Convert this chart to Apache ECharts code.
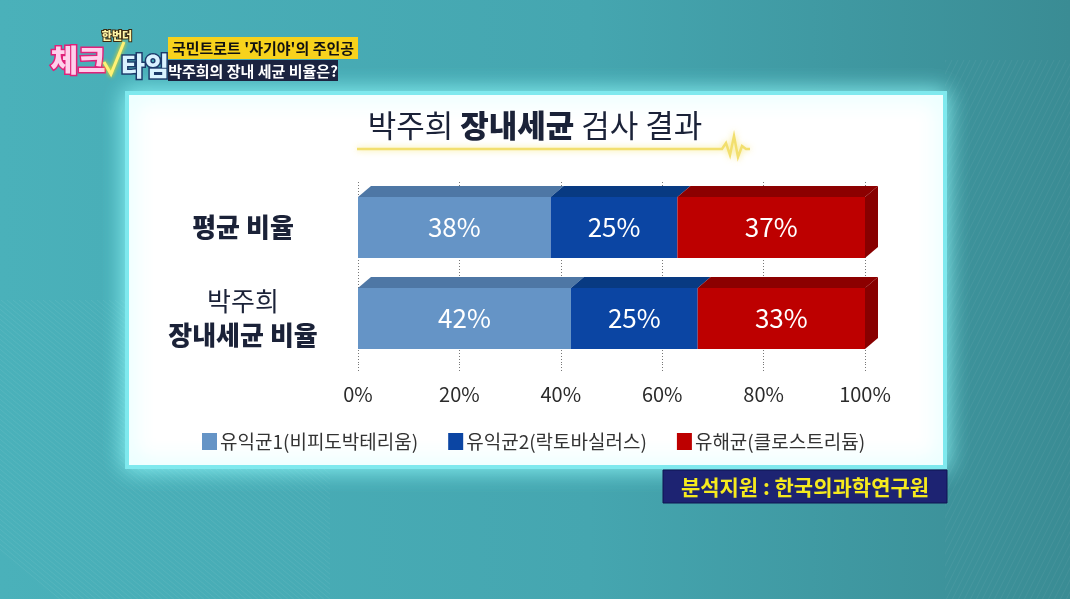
<!DOCTYPE html>
<html>
<head>
<meta charset="utf-8">
<style>
  html, body { margin: 0; padding: 0; width: 1070px; height: 599px; overflow: hidden; background: #44a7b1; }
  #chart { width: 1070px; height: 599px; }
</style>
<script src="https://cdn.jsdelivr.net/npm/echarts@6/dist/echarts.min.js"></script>
</head>
<body>
<div id="chart"></div>
<script>
// Gut-flora test result: share of each bacterial group
const categories = ['평균 비율', '박주희\n장내세균 비율'];
const groupNames = ['유익균1(비피도박테리움)', '유익균2(락토바실러스)', '유해균(클로스트리듐)'];
const beneficial1 = [38, 42];
const beneficial2 = [25, 25];
const harmful = [37, 33];
const xTicks = [0, 20, 40, 60, 80, 100];

const titleParts = ['박주희 ', '장내세균', ' 검사 결과'];
const captionTop = "국민트로트 '자기야'의 주인공";
const captionBottom = '박주희의 장내 세균 비율은?';
const sourceText = '분석지원 : 한국의과학연구원';

const FONT = '"Noto Sans CJK KR", "Noto Sans", sans-serif';

// colour sets per group: front face, top face, side face
const palette = [
  { front: '#6594c6', top: '#4e77a5', side: '#44699a' },
  { front: '#0b45a3', top: '#083a82', side: '#06306e' },
  { front: '#bd0000', top: '#8c0000', side: '#880000' }
];

const groups = [beneficial1, beneficial2, harmful];

// stacked [start, end, categoryIndex] triplets for each group
function stackedData(gi) {
  return categories.map((c, ci) => {
    let start = 0;
    for (let k = 0; k < gi; k++) start += groups[k][ci];
    return [start, start + groups[gi][ci], ci];
  });
}

function makeRender(gi) {
  const col = palette[gi];
  const isLast = gi === groups.length - 1;
  return function (params, api) {
    const start = api.value(0), end = api.value(1), cat = api.value(2);
    const p0 = api.coord([start, cat]);
    const p1 = api.coord([end, cat]);
    const h = api.size([0, 1])[1] * 0.67;
    const x0 = p0[0], x1 = p1[0], yc = p0[1];
    const top = yc - h / 2, bot = yc + h / 2;
    const dx = 13, dy = 11;
    const children = [
      { type: 'polygon', shape: { points: [[x0, top], [x0 + dx, top - dy], [x1 + dx, top - dy], [x1, top]] },
        style: { fill: col.top } },
      { type: 'rect', shape: { x: x0, y: top, width: x1 - x0, height: h }, style: { fill: col.front } },
      { type: 'text', x: (x0 + x1) / 2, y: yc,
        style: { text: Math.round(end - start) + '%', fill: '#ffffff', font: '400 26px ' + FONT,
                 align: 'center', verticalAlign: 'middle' } }
    ];
    if (isLast) {
      children.push({ type: 'polygon',
        shape: { points: [[x1, top], [x1 + dx, top - dy], [x1 + dx, bot - dy], [x1, bot]] },
        style: { fill: col.side } });
    }
    return { type: 'group', children };
  };
}

// diagonal background stripes
function stripes(x0, y0, w, hgt, slope, gap, color) {
  const out = [];
  for (let i = -hgt; i < w + hgt; i += gap) {
    out.push({ type: 'line', silent: true,
      shape: { x1: x0 + i, y1: y0, x2: x0 + i + slope * hgt, y2: y0 + hgt },
      style: { stroke: color, lineWidth: 1 } });
  }
  return { type: 'group', children: out,
    clipPath: { type: 'rect', shape: { x: x0, y: y0, width: w, height: hgt } } };
}

const chart = echarts.init(document.getElementById('chart'), null, { renderer: 'canvas' });

const option = {
  animation: false,
  backgroundColor: {
    type: 'linear', x: 0, y: 0, x2: 1, y2: 0,
    colorStops: [
      { offset: 0, color: '#4ab1ba' },
      { offset: 0.55, color: '#45a6b0' },
      { offset: 1, color: '#3a8c94' }
    ]
  },
  textStyle: { fontFamily: FONT },
  graphic: [
    // background texture
    stripes(0, 300, 330, 299, 1.2, 6, 'rgba(255,255,255,0.07)'),
    stripes(945, 60, 125, 539, -0.5, 6, 'rgba(255,255,255,0.06)'),
    // glowing white panel
    { type: 'rect', z: 0, shape: { x: 127, y: 93, width: 818, height: 374 },
      style: { fill: '#ffffff', stroke: '#7fe9ee', lineWidth: 4,
               shadowBlur: 22, shadowColor: 'rgba(150,255,255,0.9)' } },
    // chart title
    { type: 'text', left: 'center', top: 110, z: 5,
      style: {
        text: '{r|' + titleParts[0] + '}{b|' + titleParts[1] + '}{r|' + titleParts[2] + '}',
        rich: {
          r: { font: '400 31px ' + FONT, fill: '#1b2238' },
          b: { font: '900 31px ' + FONT, fill: '#1b2238' }
        }
      } },
    // yellow underline with pulse
    { type: 'polyline', z: 5,
      shape: { points: [[357, 149], [722, 149], [726, 143], [730, 155], [734, 136], [738, 157], [742, 146], [746, 149], [750, 149]] },
      style: { stroke: '#f2df6e', lineWidth: 2.5, fill: null,
               shadowBlur: 6, shadowColor: 'rgba(245,225,100,0.8)' } },
    // source box
    { type: 'rect', z: 5, shape: { x: 663, y: 470, width: 284, height: 33 },
      style: { fill: '#1d2372', stroke: '#0f1450', lineWidth: 1 } },
    { type: 'text', z: 6, x: 805, y: 487,
      style: { text: sourceText, font: '700 21px ' + FONT, fill: '#f6ea1e',
               align: 'center', verticalAlign: 'middle' } },
    // caption boxes
    { type: 'rect', z: 5, shape: { x: 168, y: 37, width: 190, height: 22 },
      style: { fill: '#f7d21c' } },
    { type: 'text', z: 6, x: 263, y: 48,
      style: { text: captionTop, font: '700 15px ' + FONT, fill: '#111111',
               align: 'center', verticalAlign: 'middle' } },
    { type: 'rect', z: 5, shape: { x: 168, y: 60, width: 170, height: 21 },
      style: { fill: '#1b2340' } },
    { type: 'text', z: 6, x: 253, y: 71,
      style: { text: captionBottom, font: '700 15px ' + FONT, fill: '#ffffff',
               align: 'center', verticalAlign: 'middle' } },
    // show logo
    { type: 'text', z: 6, x: 117, y: 36,
      style: { text: '한번더', font: '900 11px ' + FONT, fill: '#fff6a8',
               stroke: '#3b2a10', lineWidth: 2, align: 'center', verticalAlign: 'middle' } },
    { type: 'text', z: 6, x: 78, y: 60,
      style: { text: '체크', font: '900 30px ' + FONT, fill: '#ffd0ec',
               stroke: '#e0207a', lineWidth: 3, align: 'center', verticalAlign: 'middle',
               shadowBlur: 6, shadowColor: '#ff40a0' } },
    { type: 'polyline', z: 6, shape: { points: [[104, 62], [111, 74], [124, 42]] },
      style: { stroke: '#fff176', lineWidth: 3, fill: null, shadowBlur: 4, shadowColor: '#ffe000' } },
    { type: 'text', z: 6, x: 145, y: 66,
      style: { text: '타임', font: '900 26px ' + FONT, fill: '#d9f3ff',
               stroke: '#1b3a6a', lineWidth: 3, align: 'center', verticalAlign: 'middle',
               shadowBlur: 4, shadowColor: '#60d0ff' } }
  ],
  legend: {
    data: groupNames,
    left: 197, top: 427,
    icon: 'rect', itemWidth: 15, itemHeight: 17, itemGap: 30,
    textStyle: { fontSize: 19, color: '#333333', fontFamily: FONT, padding: [0, 0, 0, -2] }
  },
  grid: { left: 358, right: 205, top: 182, height: 182, containLabel: false },
  xAxis: {
    type: 'value', min: xTicks[0], max: xTicks[xTicks.length - 1], interval: 20,
    axisLine: { show: false },
    axisTick: { show: true, length: 8, lineStyle: { color: '#777777', type: [1, 2] } },
    axisLabel: { formatter: '{value}%', fontSize: 20, color: '#2b2b2b', margin: 20, fontFamily: FONT },
    splitLine: { show: true, lineStyle: { color: '#777777', width: 1, type: [1, 2] } }
  },
  yAxis: {
    type: 'category', data: categories, inverse: true,
    axisLine: { show: false }, axisTick: { show: false },
    axisLabel: {
      margin: 115, align: 'center',
      formatter: function (v) {
        const parts = v.split('\n');
        if (parts.length === 1) return '{b|' + parts[0] + '}';
        return '{r|' + parts[0] + '}\n{b|' + parts[1] + '}';
      },
      rich: {
        b: { fontSize: 26, fontWeight: 900, color: '#1b2238', fontFamily: FONT, lineHeight: 34 },
        r: { fontSize: 26, fontWeight: 400, color: '#1b2238', fontFamily: FONT, lineHeight: 34 }
      }
    }
  },
  series: groups.map((g, gi) => ({
    type: 'custom',
    name: groupNames[gi],
    color: palette[gi].front,
    itemStyle: { color: palette[gi].front },
    clip: false,
    z: 3,
    encode: { x: [0, 1], y: 2 },
    data: stackedData(gi),
    renderItem: makeRender(gi)
  }))
};

chart.setOption(option);
</script>
</body>
</html>
